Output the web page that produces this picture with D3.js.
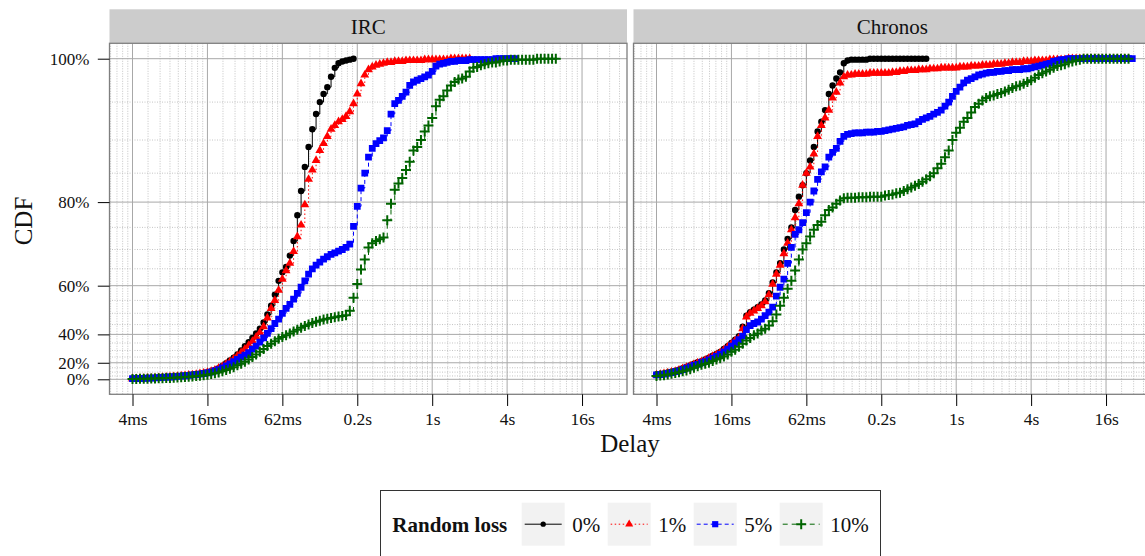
<!DOCTYPE html>
<html>
<head>
<meta charset="utf-8">
<script src="https://cdn.jsdelivr.net/npm/d3@7"></script>
<style>
  body { margin: 0; background: #fff; }
  text { font-family: "Liberation Serif", "DejaVu Serif", serif; }
</style>
</head>
<body>
<svg id="chart" width="1145" height="556"></svg>
<script>
var panels = ["IRC", "Chronos"];
var lossLabels = ["0%", "1%", "5%", "10%"];
var xTickLabels = ["4ms", "16ms", "62ms", "0.2s", "1s", "4s", "16s"];
var yTickLabels = ["0%", "20%", "40%", "60%", "80%", "100%"];

// CDF in percent, one value per delay bin (bin k = 2^(k/10) / 256 s)
var ircLoss0 = [1, 1.2, 1.4, 1.6, 1.8, 2, 2.3, 2.6, 3, 3.3,
  3.7, 4.1, 4.5, 5, 5.5, 6, 6.6, 7.2, 8, 8.9,
  9.8, 11, 12.5, 14.5, 17, 19.5, 22, 24.5, 27, 30,
  33, 35.5, 38, 40.5, 43, 46, 49.5, 53, 57, 61.5,
  64, 65.5, 68.5, 72, 77.5, 82, 86, 89, 91.5, 93.5,
  95, 96, 96.8, 98, 99, 99.5, 99.7, 99.8, 99.9, 100];
var ircLoss1 = [1, 1.2, 1.4, 1.6, 1.8, 2, 2.3, 2.6, 3, 3.3,
  3.7, 4.1, 4.5, 5, 5.5, 6, 6.6, 7.2, 8, 8.9,
  9.8, 11, 12.5, 14.5, 16.5, 19, 21, 23.5, 26, 28.5,
  31, 33.5, 36, 38.5, 41, 44, 48, 52, 55, 58.5,
  62, 64.5, 66.5, 69.5, 73, 75.5, 79.5, 84, 85.5, 87,
  88.5, 89.5, 90.5, 91.5, 92, 92.5, 92.8, 93.2, 93.8, 94.8,
  96, 97.2, 98.2, 98.8, 99.1, 99.3, 99.4, 99.5, 99.6, 99.6,
  99.7, 99.7, 99.7, 99.8, 99.8, 99.8, 99.8, 99.8, 99.9, 99.9,
  99.9, 99.9, 99.9, 99.9, 99.9, 100, 100, 100, 100, 100,
  100];
var ircLoss5 = [1, 1.2, 1.4, 1.6, 1.8, 2, 2.3, 2.6, 2.9, 3.2,
  3.5, 3.9, 4.3, 4.8, 5.3, 5.8, 6.4, 7, 7.6, 8.3,
  9, 10, 11.5, 13, 15, 17, 19, 21, 23, 25,
  26.5, 28.5, 31, 33, 35.5, 38, 40.5, 43, 45.5, 47.5,
  50, 52, 53.5, 55.5, 57.5, 59.5, 61.5, 63.5, 65, 66,
  66.8, 67.6, 68.2, 68.8, 69.2, 69.6, 70, 70.5, 71.3, 75.2,
  79.2, 82.5, 85, 87.5, 88.8, 89.5, 89.9, 90.3, 91.3, 93.5,
  94.8, 95.2, 95.7, 96.2, 97, 97.4, 97.6, 97.8, 98, 98.2,
  98.6, 99.2, 99.4, 99.5, 99.6, 99.7, 99.7, 99.8, 99.8, 99.8,
  99.9, 99.9, 99.9, 99.9, 99.9, 99.9, 99.9, 100, 100, 100,
  100, 100, 100];
var ircLoss10 = [0.5, 0.6, 0.7, 0.8, 1, 1.1, 1.3, 1.5, 1.7, 1.9,
  2.2, 2.5, 2.8, 3.1, 3.5, 3.9, 4.3, 4.8, 5.3, 5.9,
  6.5, 7.5, 8.5, 9.5, 11, 12.5, 14, 15.5, 17.5, 19,
  21, 23, 25, 27, 29, 31, 33, 34.5, 36, 37.5,
  38.5, 39.5, 40.5, 41.5, 42.5, 43.5, 44.3, 45, 45.7, 46.3,
  46.8, 47.3, 47.7, 48, 48.3, 48.6, 48.9, 49.2, 51, 56,
  60.5, 64.8, 67.5, 70.5, 71.5, 72, 72.4, 72.8, 76.5, 79.7,
  82.2, 83.3, 84.2, 85.5, 86.8, 88.5, 89, 90, 91.2, 92,
  93, 94.5, 95.3, 95.7, 96.4, 97, 97.4, 97.7, 97.8, 98,
  98.6, 99, 99.1, 99.3, 99.4, 99.5, 99.6, 99.6, 99.7, 99.8,
  99.8, 99.9, 99.9, 99.9, 99.9, 99.9, 99.9, 99.9, 100, 100,
  100, 100, 100, 100];

var chronosLoss0 = [7, 7.5, 8.5, 9.5, 10.5, 11.5, 13, 14.5, 16, 17.5,
  19, 20.5, 21.5, 23, 24.5, 26, 27.5, 29, 31, 33,
  35, 37, 39, 44, 49, 50.5, 51.5, 52.5, 53.5, 55,
  57.5, 61, 64, 66.5, 70, 72.5, 75, 78.5, 81, 83,
  85, 87, 89, 91.2, 92.5, 94, 96, 97, 97.8, 98.5,
  99.5, 99.8, 99.9, 99.9, 99.9, 99.9, 99.9, 100, 100, 100,
  100, 100, 100, 100, 100, 100, 100, 100, 100, 100,
  100, 100, 100];
var chronosLoss1 = [6.5, 7.2, 8, 9, 10, 11, 12.5, 14, 15.5, 17,
  18.5, 20, 21, 22.5, 24, 25.5, 27, 28.5, 30.5, 32.5,
  34.5, 36.5, 38, 43, 48.5, 50, 51, 52, 53, 54.5,
  57, 60.5, 63.5, 66, 69, 71.5, 74.5, 77, 79.7, 83,
  85, 86, 88, 90.5, 92, 93, 94, 95.5, 96.2, 97.3,
  98, 98.2, 98.2, 98.3, 98.3, 98.3, 98.3, 98.4, 98.4, 98.4,
  98.4, 98.4, 98.4, 98.5, 98.5, 98.6, 98.6, 98.7, 98.7, 98.7,
  98.8, 98.8, 98.8, 98.9, 98.9, 98.9, 99, 99, 99, 99,
  99, 99.1, 99.1, 99.1, 99.2, 99.2, 99.2, 99.3, 99.3, 99.3,
  99.4, 99.4, 99.4, 99.5, 99.5, 99.6, 99.6, 99.6, 99.7, 99.7,
  99.7, 99.8, 99.8, 99.8, 99.8, 99.9, 99.9, 99.9, 99.9, 99.9,
  100, 100, 100, 100, 100, 100, 100, 100, 100, 100,
  100, 100, 100, 100, 100, 100, 100];
var chronosLoss5 = [6.5, 7, 7.5, 8.5, 9.5, 10.5, 11.5, 13, 14.5, 16,
  17.5, 18.5, 20, 21, 22.5, 24, 25.5, 27, 29, 31,
  33, 35, 37, 39, 42.5, 44.5, 45.5, 46.2, 47.5, 49,
  50.5, 52.5, 56.5, 59.5, 62, 66.5, 70.5, 73.5, 74.5, 76,
  78, 80, 82, 84, 85.2, 86, 87.5, 88.2, 88.8, 89.8,
  90.5, 90.8, 90.9, 91, 91, 91, 91.1, 91.1, 91.1, 91.2,
  91.2, 91.3, 91.4, 91.5, 91.6, 91.7, 91.8, 92, 92.1, 92.2,
  92.5, 92.8, 93, 93.2, 93.5, 93.7, 94, 94.5, 95, 95.7,
  96.3, 96.8, 97.3, 97.6, 97.8, 98, 98.2, 98.3, 98.4, 98.5,
  98.5, 98.6, 98.6, 98.7, 98.7, 98.8, 98.8, 98.8, 98.9, 98.9,
  99, 99.1, 99.2, 99.3, 99.4, 99.5, 99.7, 99.8, 99.9, 99.9,
  100, 100, 100, 100, 100, 100, 100, 100, 100, 100,
  100, 100, 100, 100, 100, 100, 100, 100];
var chronosLoss10 = [5, 5.5, 6, 7, 8, 9, 10, 11, 12, 13.5,
  15, 16.5, 18, 19, 20, 21.5, 23, 24, 25.5, 27,
  29, 30.5, 32.5, 34.5, 36.5, 38, 39.5, 40.5, 42, 43,
  44.5, 46.5, 49.5, 53, 56, 59, 61.5, 64.5, 67.5, 70,
  71.5, 73, 74.5, 75.5, 76.2, 77.5, 78.5, 79, 79.7, 80.3,
  80.7, 80.8, 80.8, 80.8, 80.9, 80.9, 80.9, 81, 81, 81,
  81, 81.2, 81.3, 81.4, 81.6, 81.7, 82, 82.3, 82.6, 82.9,
  83.2, 83.6, 84, 84.5, 85, 85.8, 86.5, 87.5, 88.5, 90,
  91, 91.7, 92.5, 93, 93.7, 94.4, 94.8, 95.2, 95.5, 95.7,
  95.8, 96, 96.1, 96.3, 96.5, 96.7, 96.9, 97, 97.2, 97.4,
  97.6, 97.9, 98.2, 98.4, 98.6, 98.8, 99, 99.2, 99.3, 99.4,
  99.6, 99.7, 99.8, 99.9, 100, 100, 100, 100, 100, 100,
  100, 100, 100, 100, 100, 100, 100];

var seriesByPanel = {
  "IRC": [ircLoss0, ircLoss1, ircLoss5, ircLoss10],
  "Chronos": [chronosLoss0, chronosLoss1, chronosLoss5, chronosLoss10]
};

// styles
var colors = ["#000000", "#ff0000", "#0000ff", "#006400"];
var dashes = [null, "1.5,2.5", "4,3", "5,4"];
var plusPath = "M-5,0H5M0,-5V5";
var shapes = [
  d3.symbol(d3.symbolCircle, 32)(),
  d3.symbol(d3.symbolTriangle, 34)(),
  d3.symbol(d3.symbolSquare, 46)(),
  plusPath
];
var keyShapes = [
  d3.symbol(d3.symbolCircle, 22)(),
  d3.symbol(d3.symbolTriangle, 28)(),
  d3.symbol(d3.symbolSquare, 38)(),
  plusPath
];

var margin = {top: 43.3, left: [109.5, 633.5]};
var panelW = 517.5, panelH = 351, stripH = 34;

var binSeconds = function (k) { return Math.pow(2, k / 10) / 256; };

var x = d3.scaleLog().base(2)
    .domain([Math.pow(4, -0.307) / 256, Math.pow(4, 6.6) / 256])
    .range([0, panelW]);

// CDF axis is stretched towards the top: position ~ exp(K*p) - 1
var K = 2.7;
var yLin = d3.scaleLinear()
    .domain([0, Math.expm1(K)])
    .range([336, 15.4]);
var y = function (p) { return yLin(Math.expm1(K * p)); };

var xTickVals = xTickLabels.map(function (d, i) { return Math.pow(4, i) / 256; });
var yTickVals = yTickLabels.map(function (d, i) { return i * 0.2; });

// minor grid positions
var xMinor = [];
for (var j = -1; j < 7; j++) {
  var b = Math.pow(4, j) / 256;
  for (var m = 1; m <= 8; m++) {
    var v = b * (1 + m / 3);
    if (v > x.domain()[0] && v < x.domain()[1]) xMinor.push(v);
  }
}
var yMinor = [];
for (var i = 1; i < 20; i++) { if (i % 4 !== 0) yMinor.push(i * 0.05); }

var svg = d3.select("#chart");

panels.forEach(function (name, pi) {
  var g = svg.append("g")
      .attr("transform", "translate(" + margin.left[pi] + "," + margin.top + ")");

  // strip
  g.append("rect")
      .attr("x", 0).attr("y", -stripH)
      .attr("width", panelW).attr("height", stripH)
      .style("fill", "#cccccc");
  g.append("text")
      .attr("x", panelW / 2).attr("y", -stripH / 2)
      .attr("dy", "0.35em")
      .attr("text-anchor", "middle")
      .style("font-size", "21px")
      .style("fill", "#111")
      .text(name);

  g.append("clipPath").attr("id", "clip" + pi)
    .append("rect").attr("width", panelW).attr("height", panelH);

  // minor grid
  g.selectAll(".xminor").data(xMinor).enter().append("line")
      .attr("x1", function (d) { return x(d); })
      .attr("x2", function (d) { return x(d); })
      .attr("y1", 0).attr("y2", panelH)
      .style("stroke", "#bdbdbd").style("stroke-width", 0.9)
      .style("stroke-dasharray", "1,1.5");
  g.selectAll(".yminor").data(yMinor).enter().append("line")
      .attr("x1", 0).attr("x2", panelW)
      .attr("y1", function (d) { return y(d); })
      .attr("y2", function (d) { return y(d); })
      .style("stroke", "#bdbdbd").style("stroke-width", 0.9)
      .style("stroke-dasharray", "1,1.5");

  // major grid
  g.selectAll(".xmajor").data(xTickVals).enter().append("line")
      .attr("x1", function (d) { return x(d); })
      .attr("x2", function (d) { return x(d); })
      .attr("y1", 0).attr("y2", panelH)
      .style("stroke", "#a8a8a8").style("stroke-width", 1);
  g.selectAll(".ymajor").data(yTickVals).enter().append("line")
      .attr("x1", 0).attr("x2", panelW)
      .attr("y1", function (d) { return y(d); })
      .attr("y2", function (d) { return y(d); })
      .style("stroke", "#a8a8a8").style("stroke-width", 1);

  // series
  var plot = g.append("g").attr("clip-path", "url(#clip" + pi + ")");
  seriesByPanel[name].forEach(function (vals, si) {
    var pts = vals.map(function (v, k) { return [binSeconds(k), v / 100]; });
    var line = d3.line()
        .x(function (d) { return x(d[0]); })
        .y(function (d) { return y(d[1]); })
        .curve(d3.curveStepAfter);
    plot.append("path")
        .attr("d", line(pts))
        .style("fill", "none")
        .style("stroke", colors[si])
        .style("stroke-width", 1)
        .style("stroke-dasharray", dashes[si]);
    plot.selectAll(".m" + si).data(pts).enter().append("path")
        .attr("class", "m" + si)
        .attr("transform", function (d) { return "translate(" + x(d[0]) + "," + y(d[1]) + ")"; })
        .attr("d", shapes[si])
        .style("fill", si === 3 ? "none" : colors[si])
        .style("stroke", si === 3 ? colors[si] : "none")
        .style("stroke-width", 2);
  });

  // panel border
  g.append("rect")
      .attr("width", panelW).attr("height", panelH)
      .style("fill", "none").style("stroke", "#7f7f7f").style("stroke-width", 1.3);

  // x axis
  var gx = g.append("g")
      .attr("transform", "translate(0," + panelH + ")")
      .call(d3.axisBottom(x).tickValues(xTickVals)
        .tickFormat(function (d, i) { return xTickLabels[i]; })
        .tickSize(11.7).tickPadding(7));
  gx.select(".domain").remove();
  gx.selectAll("text").style("font-size", "17.5px").style("fill", "#111");

  if (pi === 0) {
    var gy = g.append("g")
        .call(d3.axisLeft(yLin).tickValues(yTickVals.map(function (p) { return Math.expm1(K * p); }))
          .tickFormat(function (d, i) { return yTickLabels[i]; })
          .tickSize(11.7).tickPadding(8.5));
    gy.select(".domain").remove();
    gy.selectAll("text").style("font-size", "17px").style("fill", "#111");
  }
});

// axis titles
svg.append("text")
    .attr("transform", "translate(32,221) rotate(-90)")
    .attr("text-anchor", "middle")
    .style("font-size", "25px").style("fill", "#111")
    .text("CDF");
svg.append("text")
    .attr("x", 630).attr("y", 452)
    .attr("text-anchor", "middle")
    .style("font-size", "25px").style("fill", "#111")
    .text("Delay");

// legend
var lg = svg.append("g");
lg.append("rect")
    .attr("x", 380.5).attr("y", 490.5)
    .attr("width", 500).attr("height", 90)
    .style("fill", "#fff").style("stroke", "#333").style("stroke-width", 1);
lg.append("text")
    .attr("x", 392.3).attr("y", 531.7)
    .style("font-size", "21px").style("font-weight", "bold").style("fill", "#111")
    .text("Random loss");
lossLabels.forEach(function (lab, i) {
  var kx = 521.7 + i * 86;
  lg.append("rect")
      .attr("x", kx).attr("y", 502.7)
      .attr("width", 43).attr("height", 43)
      .style("fill", "#f2f2f2");
  lg.append("line")
      .attr("x1", kx + 3).attr("x2", kx + 40)
      .attr("y1", 524.2).attr("y2", 524.2)
      .style("stroke", colors[i]).style("stroke-width", 1)
      .style("stroke-dasharray", dashes[i]);
  lg.append("path")
      .attr("transform", "translate(" + (kx + 21.5) + ",524.2)")
      .attr("d", keyShapes[i])
      .style("fill", i === 3 ? "none" : colors[i])
      .style("stroke", i === 3 ? colors[i] : "none")
      .style("stroke-width", 2);
  lg.append("text")
      .attr("x", kx + 50.5).attr("y", 531.7)
      .style("font-size", "21px").style("fill", "#111")
      .text(lab);
});
</script>
</body>
</html>
